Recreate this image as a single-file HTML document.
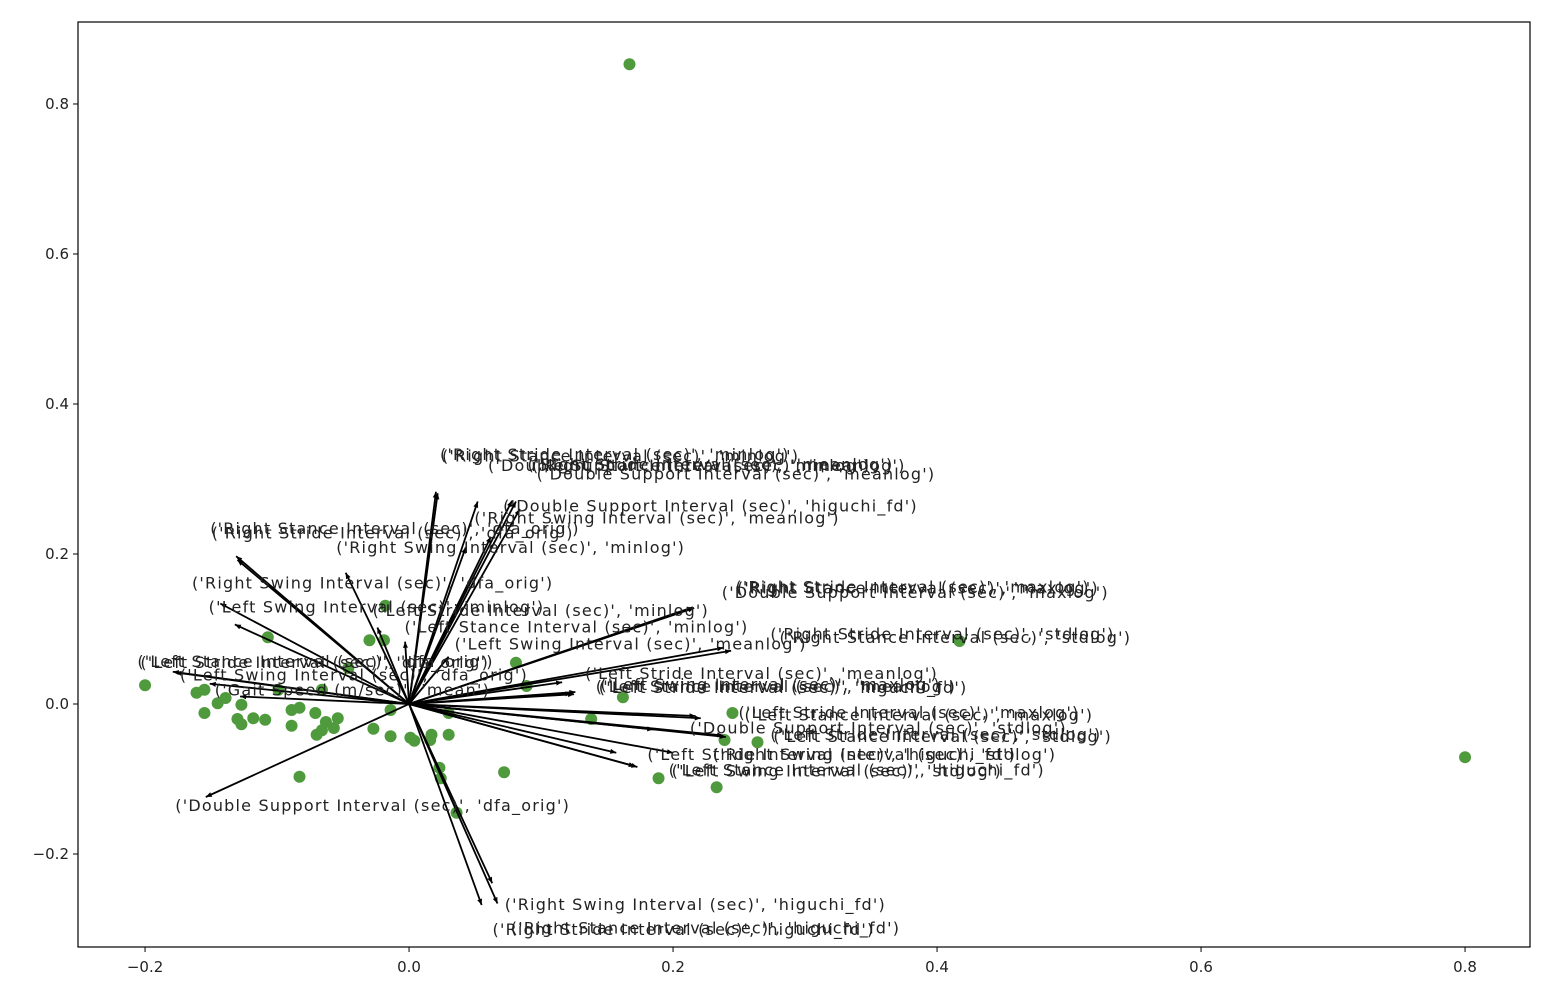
<!DOCTYPE html>
<html><head><meta charset="utf-8"><style>
html,body{margin:0;padding:0;background:#fff;}
svg{display:block;font-family:"DejaVu Sans","Liberation Sans",sans-serif;}
</style></head><body>
<svg id="chart" width="1568" height="998" viewBox="0 0 1568 998" xmlns="http://www.w3.org/2000/svg">
<rect x="0" y="0" width="1568" height="998" fill="#fff"/>
<g id="marks"></g>
<rect x="78" y="22" width="1452" height="925" fill="none" stroke="#000" stroke-width="1.2"/>
<g id="axes"></g>
</svg>
<script>
const scoreX = [0.167,0.8,0.417,-0.2,-0.161,-0.155,-0.155,-0.145,-0.139,-0.127,-0.130,-0.127,-0.118,-0.109,-0.107,-0.099,-0.089,-0.089,-0.083,-0.083,-0.071,-0.070,-0.066,-0.063,-0.057,-0.054,-0.066,-0.046,-0.030,-0.018,-0.019,-0.027,-0.014,-0.014,0.001,0.004,0.016,0.017,0.030,0.030,0.023,0.024,0.036,0.072,0.081,0.089,0.138,0.162,0.189,0.233,0.245,0.239,0.264];
const scoreY = [0.853,-0.071,0.084,0.025,0.015,0.019,-0.012,0.001,0.008,-0.001,-0.020,-0.027,-0.019,-0.021,0.089,0.019,-0.008,-0.029,-0.005,-0.097,-0.012,-0.041,-0.035,-0.024,-0.032,-0.019,0.019,0.048,0.085,0.131,0.085,-0.033,-0.008,-0.043,-0.045,-0.049,-0.048,-0.041,-0.041,-0.012,-0.085,-0.099,-0.145,-0.091,0.055,0.024,-0.020,0.009,-0.099,-0.111,-0.012,-0.048,-0.051];
const loadLabels = [
"('Right Stride Interval (sec)', 'minlog')","('Right Stance Interval (sec)', 'minlog')","('Double Support Interval (sec)', 'minlog')",
"('Right Stride Interval (sec)', 'meanlog')","('Right Stance Interval (sec)', 'meanlog')","('Double Support Interval (sec)', 'meanlog')",
"('Double Support Interval (sec)', 'higuchi_fd')","('Right Swing Interval (sec)', 'meanlog')","('Right Stance Interval (sec)', 'dfa_orig')",
"('Right Stride Interval (sec)', 'dfa_orig')","('Right Swing Interval (sec)', 'minlog')","('Right Swing Interval (sec)', 'dfa_orig')",
"('Left Swing Interval (sec)', 'minlog')","('Left Stride Interval (sec)', 'minlog')","('Left Stance Interval (sec)', 'minlog')",
"('Left Swing Interval (sec)', 'meanlog')","('Right Stride Interval (sec)', 'maxlog')","('Right Stance Interval (sec)', 'maxlog')",
"('Double Support Interval (sec)', 'maxlog')","('Right Stride Interval (sec)', 'stdlog')","('Right Stance Interval (sec)', 'stdlog')",
"('Left Stance Interval (sec)', 'dfa_orig')","('Left Stride Interval (sec)', 'dfa_orig')","('Left Swing Interval (sec)', 'dfa_orig')",
"('Gait Speed (m/sec)', 'mean')","('Left Stride Interval (sec)', 'meanlog')","('Left Stance Interval (sec)', 'meanlog')",
"('Left Swing Interval (sec)', 'maxlog')","('Left Stride Interval (sec)', 'maxlog')","('Left Stance Interval (sec)', 'maxlog')",
"('Double Support Interval (sec)', 'stdlog')","('Left Stride Interval (sec)', 'stdlog')","('Left Stance Interval (sec)', 'stdlog')",
"('Left Stride Interval (sec)', 'higuchi_fd')","('Right Swing Interval (sec)', 'stdlog')","('Left Stance Interval (sec)', 'higuchi_fd')",
"('Left Swing Interval (sec)', 'stdlog')","('Double Support Interval (sec)', 'dfa_orig')","('Right Swing Interval (sec)', 'higuchi_fd')",
"('Right Stance Interval (sec)', 'higuchi_fd')","('Right Stride Interval (sec)', 'higuchi_fd')","('Left Stride Interval (sec)', 'higuchi_fd')"];
const loadX = [0.0204,0.0217,0.052,0.078,0.081,0.084,0.062,0.043,-0.131,-0.130,-0.048,-0.143,-0.132,-0.024,-0.003,0.030,0.215,0.216,0.206,0.238,0.244,-0.179,-0.177,-0.151,-0.128,0.116,0.123,0.126,0.217,0.221,0.185,0.238,0.240,0.157,0.200,0.171,0.173,-0.154,0.063,0.067,0.055,0.125];
const loadY = [0.283,0.281,0.270,0.271,0.270,0.260,0.223,0.209,0.197,0.192,0.175,0.134,0.106,0.102,0.083,0.063,0.129,0.128,0.123,0.075,0.071,0.043,0.042,0.027,0.010,0.029,0.014,0.016,-0.016,-0.019,-0.034,-0.042,-0.044,-0.065,-0.065,-0.083,-0.084,-0.124,-0.239,-0.266,-0.268,0.013];
const xTicks = [-0.2,0,0.2,0.4,0.6,0.8];
const yTicks = [-0.2,0,0.2,0.4,0.6,0.8];

const X0=78,X1=1530,Y0=22,Y1=947;
const xMin=-0.2508,xMax=0.8492,yMin=-0.324,yMax=0.9093;
const sx=v=>X0+(v-xMin)/(xMax-xMin)*(X1-X0);
const sy=v=>Y1-(v-yMin)/(yMax-yMin)*(Y1-Y0);
const NS="http://www.w3.org/2000/svg";
const marks=document.getElementById('marks'), axes=document.getElementById('axes');
function mk(tag,attrs,parent){const e=document.createElementNS(NS,tag);for(const k in attrs)e.setAttribute(k,attrs[k]);parent.appendChild(e);return e;}
const fmt=v=>(v<0?"\u2212":"")+Math.abs(v).toFixed(1);

for(let i=0;i<scoreX.length;i++){
  const c=mk('circle',{cx:sx(scoreX[i]),cy:sy(scoreY[i]),r:6,fill:'#4f9a3c'},marks);
  
  
}
for(let i=0;i<loadX.length;i++){
  const x0=sx(0),y0=sy(0),x1=sx(loadX[i]),y1=sy(loadY[i]);
  const g=mk('g',{},marks);
  
  
  mk('line',{x1:x0,y1:y0,x2:x1,y2:y1,stroke:'#000','stroke-width':1.8},g);
  const a=Math.atan2(y1-y0,x1-x0),L=6,W=2.5;
  const bx=x1-L*Math.cos(a),by=y1-L*Math.sin(a);
  mk('polygon',{points:`${x1},${y1} ${bx-W*Math.sin(a)},${by+W*Math.cos(a)} ${bx+W*Math.sin(a)},${by-W*Math.cos(a)}`,fill:'#000'},g);
}
for(let i=0;i<loadX.length;i++){
  const t=mk('text',{x:sx(loadX[i]*1.15),y:sy(loadY[i]*1.15),'font-size':16,'letter-spacing':'1.2px',fill:'#222'},marks);
  t.textContent=loadLabels[i];
  
  
}
xTicks.forEach(v=>{
  const x=sx(v);
  const l=mk('line',{x1:x,y1:Y1,x2:x,y2:Y1+5,stroke:'#000','stroke-width':1},axes);
  
  
  const t=mk('text',{x:x,y:Y1+25,'font-size':15,'text-anchor':'middle',fill:'#222'},axes);
  t.textContent=fmt(v);
  
  
});
yTicks.forEach(v=>{
  const y=sy(v);
  const l=mk('line',{x1:X0-5,y1:y,x2:X0,y2:y,stroke:'#000','stroke-width':1},axes);
  
  
  const t=mk('text',{x:X0-9,y:y+5,'font-size':15,'text-anchor':'end',fill:'#222'},axes);
  t.textContent=fmt(v);
  
  
});
</script>
</body></html>
